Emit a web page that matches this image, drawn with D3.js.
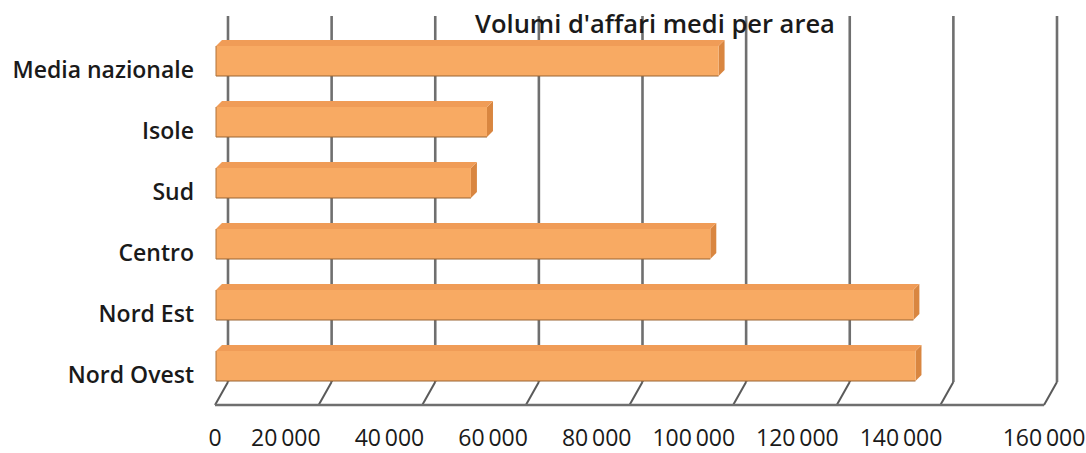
<!DOCTYPE html>
<html>
<head>
<meta charset="utf-8">
<script src="https://cdn.jsdelivr.net/npm/d3@7"></script>
<style>
  body { margin: 0; background: #fff; }
  svg { display: block; font-family: "Open Sans", sans-serif; }
</style>
</head>
<body>
<div id="chart"></div>
<script>
// values
const categories = ["Media nazionale", "Isole", "Sud", "Centro", "Nord Est", "Nord Ovest"];
const values = [97000, 52300, 49200, 95400, 134600, 135000];
const ticks = [0, 20000, 40000, 60000, 80000, 100000, 120000, 140000, 160000];
const title = "Volumi d'affari medi per area";

const width = 1086, height = 453;

const svg = d3.select("#chart").append("svg")
    .attr("width", width)
    .attr("height", height);

// front floor edge and back wall offset (oblique 3D look)
const frontX = 215, floorFront = 405;
const depthX = 13, depthY = -23;
const wallTop = 16;

const x = d3.scaleLinear()
    .domain([0, 160000])
    .range([0, 829]);

const y = d3.scaleBand()
    .domain(categories)
    .range([27.5, 393.5])
    .paddingInner(0.41)
    .paddingOuter(0.205);

const fmt = v => d3.format(",")(v).replace(/,/g, "\u2009");

const grid = svg.append("g").attr("stroke", "#6f6f6f").attr("fill", "none");

// back wall gridlines
grid.selectAll("line.wall")
    .data(ticks)
    .join("line")
    .attr("class", "wall")
    .attr("x1", d => frontX + depthX + x(d))
    .attr("x2", d => frontX + depthX + x(d))
    .attr("y1", wallTop)
    .attr("y2", floorFront + depthY)
    .attr("stroke-width", 2.6);

// floor lines running to the front
grid.selectAll("line.floor")
    .data(ticks)
    .join("line")
    .attr("class", "floor")
    .attr("x1", d => frontX + x(d))
    .attr("x2", d => frontX + depthX + x(d))
    .attr("y1", floorFront)
    .attr("y2", floorFront + depthY)
    .attr("stroke", "#5a5a5a")
    .attr("stroke-width", 2);

grid.append("line")
    .attr("x1", frontX + x(0))
    .attr("x2", frontX + x(160000))
    .attr("y1", floorFront)
    .attr("y2", floorFront)
    .attr("stroke-width", 2.6);

// bars
const d = 6;
const bw = y.bandwidth();
const x0 = frontX + 1;

const bars = svg.append("g")
    .selectAll("g")
    .data(categories.map((c, i) => ({ c, v: values[i] })))
    .join("g");

// right side face
bars.append("path")
    .attr("fill", "#d98640")
    .attr("d", b => {
        const x1 = x0 + x(b.v), t = y(b.c);
        return `M${x1},${t + d}L${x1 + d},${t}L${x1 + d},${t + bw - d}L${x1},${t + bw}Z`;
    });

// top face
bars.append("path")
    .attr("fill", "#f09c57")
    .attr("d", b => {
        const x1 = x0 + x(b.v), t = y(b.c);
        return `M${x0},${t + d}L${x0 + d},${t}L${x1 + d},${t}L${x1},${t + d}Z`;
    });

// front face
bars.append("rect")
    .attr("fill", "#f8aa63")
    .attr("x", x0)
    .attr("y", b => y(b.c) + d)
    .attr("width", b => x(b.v))
    .attr("height", bw - d);

bars.append("line")
    .attr("stroke", "#9a6432")
    .attr("stroke-width", 1.2)
    .attr("x1", x0)
    .attr("x2", b => x0 + x(b.v))
    .attr("y1", b => y(b.c) + bw)
    .attr("y2", b => y(b.c) + bw);

bars.append("line")
    .attr("stroke", "#b0733a")
    .attr("stroke-width", 1)
    .attr("x1", x0)
    .attr("x2", x0)
    .attr("y1", b => y(b.c) + d)
    .attr("y2", b => y(b.c) + bw);

// category labels
svg.append("g")
    .selectAll("text")
    .data(categories)
    .join("text")
    .attr("x", 194)
    .attr("y", c => y(c) + bw / 2 + 12)
    .attr("dy", "0.35em")
    .attr("text-anchor", "end")
    .attr("font-size", 23)
    .attr("font-weight", 600)
    .attr("fill", "#1a1a1a")
    .text(c => c);

// value labels under the floor
svg.append("g")
    .selectAll("text")
    .data(ticks)
    .join("text")
    .attr("x", (v, i) => i === 0 || i === ticks.length - 1 ? frontX + x(v) : frontX + x(v) + 2)
    .attr("y", 446)
    .attr("text-anchor", (v, i) => i === 0 || i === ticks.length - 1 ? "middle" : "end")
    .attr("font-size", 23)
    .attr("fill", "#1a1a1a")
    .text(fmt);

svg.append("text")
    .attr("x", 655)
    .attr("y", 33)
    .attr("text-anchor", "middle")
    .attr("font-size", 25.5)
    .attr("font-weight", 600)
    .attr("fill", "#1a1a1a")
    .text(title);
</script>
</body>
</html>
